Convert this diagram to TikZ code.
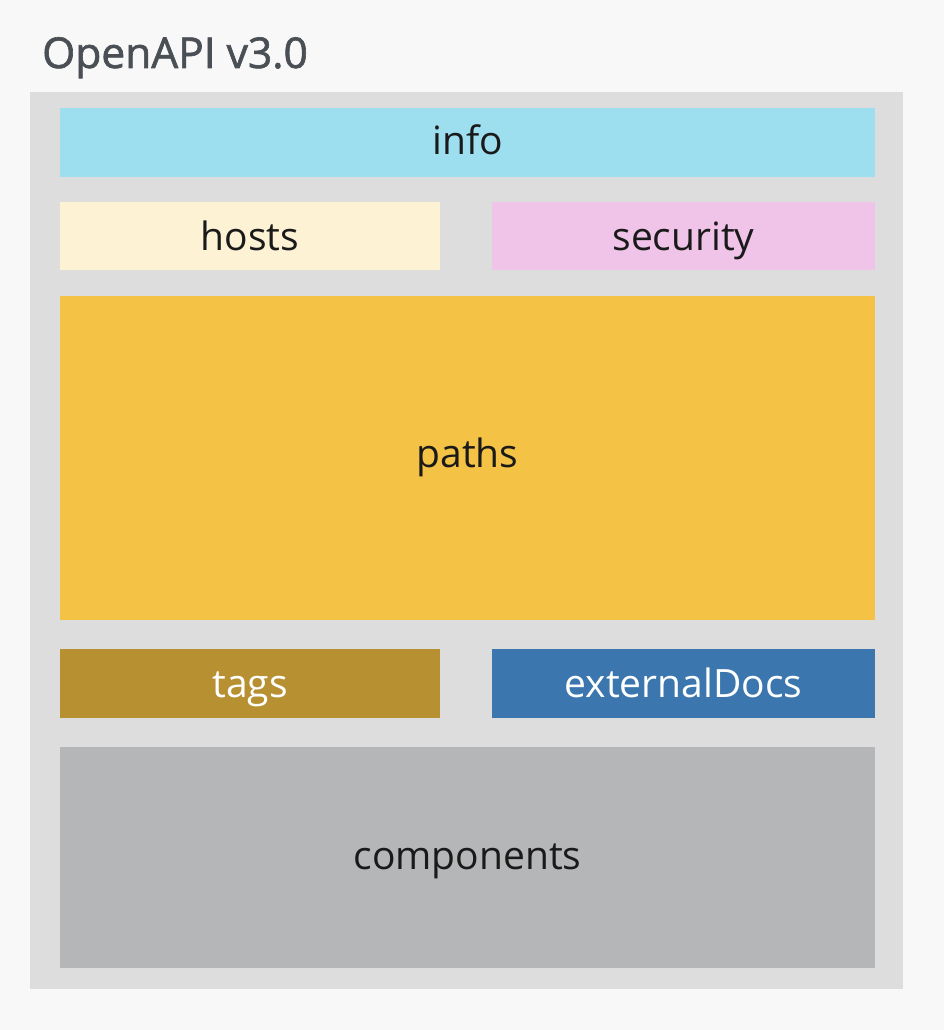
\documentclass[tikz,border=0pt]{standalone}
\usepackage{fontspec}
\setmainfont{Open Sans}
\newfontfamily\titlefont{Open Sans}[FakeBold=1.5]
\definecolor{bg}{HTML}{F8F8F8}
\definecolor{outer}{HTML}{DDDDDD}
\definecolor{cinfo}{HTML}{9EDFEF}
\definecolor{chosts}{HTML}{FDF2D4}
\definecolor{csec}{HTML}{F0C4E8}
\definecolor{cpaths}{HTML}{F4C244}
\definecolor{ctags}{HTML}{B79131}
\definecolor{cdocs}{HTML}{3B77AE}
\definecolor{ccomp}{HTML}{B5B6B8}
\definecolor{ctitle}{HTML}{4A4F55}
\definecolor{ctext}{HTML}{1A1A1A}
\tikzset{
  blk/.style={fill=#1, draw=none},
  lbl/.style={font=\fontsize{39}{44}\selectfont, text=ctext, inner sep=0pt, anchor=base},
}
\begin{document}
\begin{tikzpicture}[x=1pt,y=-1pt]
\useasboundingbox (0,0) rectangle (944,1030);
\fill[bg] (0,0) rectangle (944,1030);
\node[anchor=base west, inner sep=0pt, text=ctitle, font=\titlefont\fontsize{42.5}{48}\selectfont] (title) at (42,68) {OpenAPI v3.0};
\fill[blk=outer] (30,92) rectangle (903,989);
\fill[blk=cinfo] (60,108) rectangle (875,177);
\node[lbl] (info) at (467.5,154) {info};
\fill[blk=chosts] (60,202) rectangle (440,270);
\node[lbl] (hosts) at (250,250) {hosts};
\fill[blk=csec] (492,202) rectangle (875,270);
\node[lbl] (security) at (683.5,250) {security};
\fill[blk=cpaths] (60,296) rectangle (875,620);
\node[lbl] (paths) at (467.5,467) {paths};
\fill[blk=ctags] (60,649) rectangle (440,718);
\node[lbl, text=white] (tags) at (250,697) {tags};
\fill[blk=cdocs] (492,649) rectangle (875,718);
\node[lbl, text=white] (docs) at (683.5,697) {externalDocs};
\fill[blk=ccomp] (60,747) rectangle (875,968);
\node[lbl] (comp) at (467.5,869) {components};
\end{tikzpicture}
\end{document}
